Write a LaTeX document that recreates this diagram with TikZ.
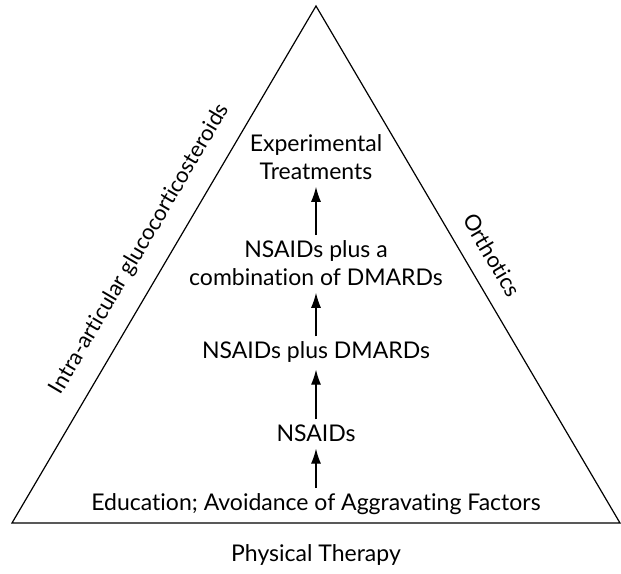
\documentclass[tikz,border=0pt]{standalone}
\usepackage{fontspec}
\setmainfont{Lato}[Ligatures={NoCommon}]
\usetikzlibrary{arrows.meta, positioning, calc}

\begin{document}
\begin{tikzpicture}[x=1pt, y=-1pt, >={Latex[length=15pt, width=10pt]},
  font=\fontsize{23}{28}\selectfont,
  stage/.style={align=center, inner sep=1pt},
  side/.style={inner sep=0pt, font=\fontsize{22}{26}\selectfont},
  step arrow/.style={->, line width=1.2pt, shorten <=4pt, shorten >=6pt}]
  \useasboundingbox (0,0) rectangle (621,573);

  % ---- Triangle ----
  \coordinate (apex) at (316,6);
  \coordinate (bl) at (12,523);
  \coordinate (br) at (620,523);
  \draw[line width=1.2pt, line join=miter] (apex) -- (br) -- (bl) -- cycle;

  % ---- Treatment steps ----
  \node[stage] (exp)   at (316,157) {Experimental\\Treatments};
  \node[stage] (combo) at (316,263) {NSAIDs plus a\\combination of DMARDs};
  \node[stage] (plusd) at (316,352) {NSAIDs plus DMARDs};
  \node[stage] (nsaid) at (316,433) {NSAIDs};
  \node[stage] (edu)   at (316,504) {Education; Avoidance of Aggravating Factors};

  % ---- Arrows ----
  \draw[step arrow] (edu) -- (nsaid);
  \draw[step arrow] (nsaid) -- (plusd);
  \draw[step arrow] (plusd) -- (combo);
  \draw[step arrow] (combo) -- (exp);

  % ---- Side labels ----
  \node[side, rotate=59.5]  (intra) at (140,249) {Intra-articular glucocorticosteroids};
  \node[side, rotate=-59.5] (orth)  at (492,255) {Orthotics};
  \node[stage] (phys) at (316,555) {Physical Therapy};
\end{tikzpicture}
\end{document}
